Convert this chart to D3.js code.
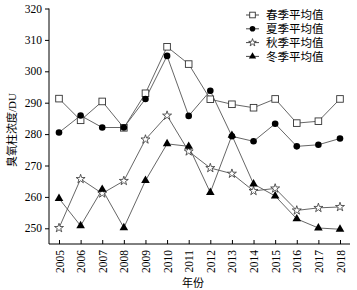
<!DOCTYPE html>
<html>
<head>
<meta charset="utf-8">
<script src="https://cdn.jsdelivr.net/npm/d3@7"></script>
<style>
  body { margin: 0; background: #fff; }
  svg { display: block; }
  text { font-family: "Liberation Serif", "Noto Sans CJK SC", serif; fill: #000; }
</style>
</head>
<body>
<div id="chart-area"></div>
<script>
const years = ["2005", "2006", "2007", "2008", "2009", "2010", "2011", "2012", "2013", "2014", "2015", "2016", "2017", "2018"];
const spring = [291.3, 284.4, 290.4, 282.0, 293.0, 307.8, 302.3, 291.1, 289.5, 288.4, 291.2, 283.5, 284.1, 291.2];
const summer = [280.5, 285.9, 282.1, 282.1, 291.2, 304.9, 285.8, 293.8, 279.3, 277.7, 283.3, 276.1, 276.6, 278.6];
const autumn = [250.1, 265.7, 261.1, 265.1, 278.3, 285.9, 274.5, 269.2, 267.4, 261.9, 262.7, 255.7, 256.5, 256.8];
const winter = [259.5, 250.8, 262.4, 250.2, 265.2, 276.9, 276.1, 261.4, 279.6, 264.1, 260.3, 253.0, 250.1, 249.7];
const yTicks = [250, 260, 270, 280, 290, 300, 310, 320];
const seriesNames = ["春季平均值", "夏季平均值", "秋季平均值", "冬季平均值"];

const margin = { top: 8.5, right: 7, bottom: 46, left: 49 };
const width = 357 - margin.left - margin.right;
const height = 290 - margin.top - margin.bottom;

const svg = d3.select("#chart-area")
    .append("svg")
    .attr("width", 357)
    .attr("height", 290);

const g = svg.append("g")
    .attr("transform", "translate(" + margin.left + ", " + margin.top + ")");

const x = d3.scalePoint().domain(years).range([10, 291]);
const y = d3.scaleLinear().domain([245, 320]).range([height, 0]);

// axes
const leftAxis = d3.axisLeft(y).tickValues(yTicks).tickSize(4).tickPadding(3);
const ya = g.append("g").attr("class", "left axis").call(leftAxis);
ya.select(".domain").attr("d", "M0," + y(320) + "V" + height);
ya.selectAll("text").attr("font-size", "11.5px");

const bottomAxis = d3.axisBottom(x).tickSizeInner(-4).tickSizeOuter(0);
const xa = g.append("g")
    .attr("class", "bottom axis")
    .attr("transform", "translate(0, " + height + ")")
    .call(bottomAxis);
xa.select(".domain").attr("d", "M0,0H" + width);
xa.selectAll("text")
    .attr("font-size", "11.5px")
    .attr("text-anchor", "end")
    .attr("x", -6)
    .attr("y", 0)
    .attr("dy", "0.35em")
    .attr("transform", "rotate(-90)");
svg.selectAll(".axis path, .axis line").attr("stroke", "#000").attr("stroke-width", 1);
svg.selectAll(".axis text").attr("font-family", "Liberation Serif, serif").attr("fill", "#000");

// axis labels
svg.append("text")
    .attr("transform", "translate(16, 130) rotate(-90)")
    .attr("text-anchor", "middle")
    .attr("font-size", "11px")
    .text("臭氧柱浓度/DU");

svg.append("text")
    .attr("x", 193)
    .attr("y", 287)
    .attr("text-anchor", "middle")
    .attr("font-size", "11px")
    .text("年份");

// markers
const drawMarker = (sel, kind, s) => {
    if (kind === 0) {
        const h = 3.3 * s;
        sel.append("rect").attr("x", -h).attr("y", -h).attr("width", 2 * h).attr("height", 2 * h)
            .attr("fill", "#fff").attr("stroke", "#333").attr("stroke-width", 0.9);
    } else if (kind === 1) {
        sel.append("circle").attr("r", 3.3 * s).attr("fill", "#000");
    } else if (kind === 2) {
        sel.append("path").attr("d", d3.symbol().type(d3.symbolStar).size(25 * s * s)())
            .attr("fill", "#fff").attr("stroke", "#333").attr("stroke-width", 0.8);
    } else {
        sel.append("path").attr("d", d3.symbol().type(d3.symbolTriangle).size(32 * s * s)())
            .attr("fill", "#000");
    }
};

const allSeries = [spring, summer, autumn, winter];
const order = [0, 2, 3, 1];
const line = d3.line().x((d, i) => x(years[i])).y((d) => y(d));

order.forEach((k) => {
    g.append("path")
        .datum(allSeries[k])
        .attr("fill", "none")
        .attr("stroke", "#555")
        .attr("stroke-width", 0.9)
        .attr("d", line);
});
order.forEach((k) => {
    const pts = g.selectAll(".pt" + k)
        .data(allSeries[k])
        .enter()
        .append("g")
        .attr("class", "pt" + k)
        .attr("transform", (d, i) => "translate(" + x(years[i]) + "," + y(d) + ")");
    drawMarker(pts, k, 1);
});

// legend
const legend = svg.append("g").attr("transform", "translate(246, 15)");
seriesNames.forEach((name, k) => {
    const row = legend.append("g").attr("transform", "translate(0," + (k * 13.8) + ")");
    row.append("line").attr("x1", 0).attr("x2", 13).attr("y1", 0).attr("y2", 0)
        .attr("stroke", "#333").attr("stroke-width", 0.9);
    const m = row.append("g").attr("transform", "translate(6.5,0)");
    drawMarker(m, k, 0.85);
    row.append("text")
        .attr("x", 20)
        .attr("y", 0)
        .attr("dy", "0.38em")
        .attr("font-size", "11.5px")
        .text(name);
});
</script>
</body>
</html>
